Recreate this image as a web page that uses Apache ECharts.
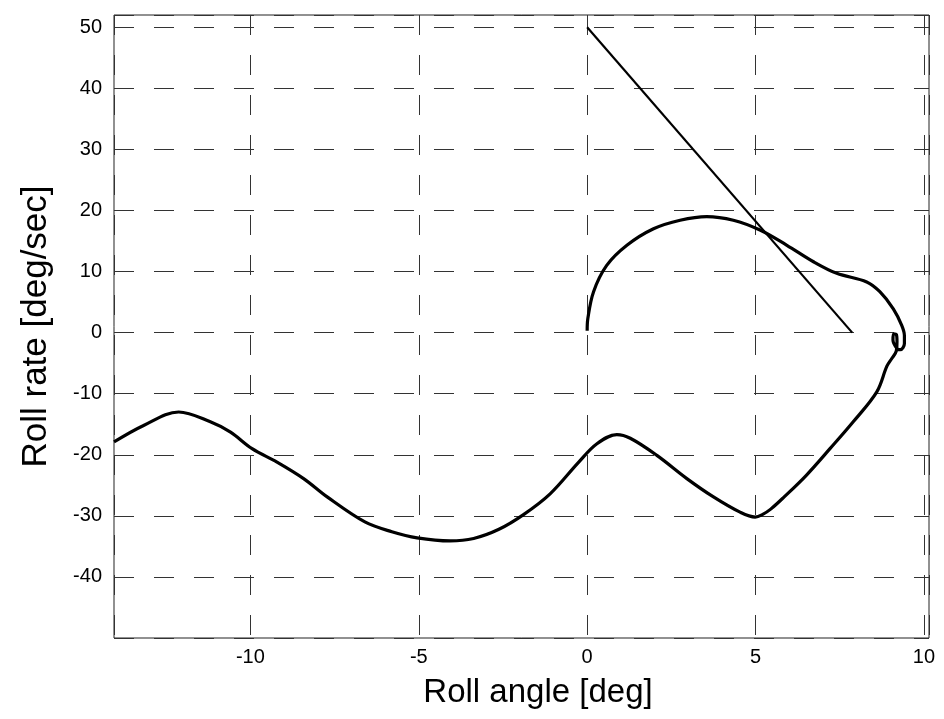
<!DOCTYPE html>
<html>
<head>
<meta charset="utf-8">
<script src="https://cdn.jsdelivr.net/npm/echarts@6/dist/echarts.min.js"></script>
<style>
html,body{margin:0;padding:0;background:#fff;}
#chart{width:944px;height:719px;}
</style>
</head>
<body>
<div id="chart"></div>
<script>
// Roll angle [deg] / Roll rate [deg/sec] trajectory
const trajAngle = [0, 0.02, 0.19, 0.58, 1.18, 1.97, 2.76, 3.55, 4.34, 5.13, 5.93, 6.72, 7.41, 8.30, 8.69, 9.09, 9.34,
  9.42, 9.42, 9.30, 9.20, 9.08, 9.10, 9.18, 9.20, 9.18, 9.05, 8.90,
  8.60, 7.90, 7.21, 6.50, 5.85, 5.45, 5.20, 4.99, 4.54, 3.75, 2.96, 2.07, 1.28, 0.88, 0.29, -0.25,
  -1.10, -1.89, -2.62, -3.37, -4.07, -5.05, -5.80, -6.60, -7.72, -8.42, -9.21, -9.95, -10.59, -11.19, -12.13, -13.17, -14.05];
const trajRate = [0.3, 2.3, 6.7, 11.0, 14.3, 17.0, 18.4, 19.0, 18.4, 16.8, 14.3, 11.6, 9.7, 8.3, 6.7, 3.9, 1.2,
  -0.5, -1.8, -2.8, -2.6, -1.2, -0.2, -0.3, -1.5, -3.0, -4.2, -5.5,
  -9.7, -14.6, -19.0, -23.4, -26.9, -28.9, -29.8, -30.2, -29.4, -26.9, -23.9, -20.1, -17.3, -16.7, -18.2, -21.2,
  -26.4, -29.8, -32.2, -33.7, -34.1, -33.6, -32.6, -31.0, -26.9, -23.9, -21.2, -19.0, -16.3, -14.6, -13.0, -15.2, -17.9];
// switching line
const lineAngle = [0, 7.87];
const lineRate = [50, 0];

const xLabels = [-10, -5, 0, 5, 10];
const yLabels = [-40, -30, -20, -10, 0, 10, 20, 30, 40, 50];

const traj = trajAngle.map((v, i) => [v, trajRate[i]]);
const sw = lineAngle.map((v, i) => [v, lineRate[i]]);

const FONT = "'Liberation Sans', Arial, Helvetica, sans-serif";
const gridStyle = { color: '#333', width: 1, type: [20, 20] };

const chart = echarts.init(document.getElementById('chart'), null, { renderer: 'canvas' });
chart.setOption({
  backgroundColor: '#fff',
  animation: false,
  grid: { left: 114, right: 15, top: 15, bottom: 81, show: true, borderColor: '#222', borderWidth: 1, containLabel: false },
  xAxis: {
    type: 'value', min: -14.05, max: 10.15, splitNumber: 5,
    axisLine: { show: false }, axisTick: { show: false },
    axisLabel: {
      showMinLabel: false, showMaxLabel: false, margin: 9,
      fontSize: 20, color: '#000', fontFamily: FONT,
      formatter: v => (xLabels.indexOf(v) >= 0 ? String(v) : '')
    },
    splitLine: { show: true, lineStyle: gridStyle },
    name: 'Roll angle [deg]', nameLocation: 'middle', nameGap: 38,
    nameTextStyle: { fontSize: 33, color: '#000', fontFamily: FONT, padding: [0, 0, 0, 33] }
  },
  yAxis: {
    type: 'value', min: -50, max: 52, interval: 10,
    axisLine: { show: false }, axisTick: { show: false },
    axisLabel: {
      showMinLabel: false, showMaxLabel: false, margin: 12,
      fontSize: 20, color: '#000', fontFamily: FONT,
      formatter: v => (yLabels.indexOf(v) >= 0 ? String(v) : '')
    },
    splitLine: { show: true, lineStyle: gridStyle },
    name: 'Roll rate [deg/sec]', nameLocation: 'middle', nameGap: 60,
    nameTextStyle: { fontSize: 35, color: '#000', fontFamily: FONT }
  },
  series: [
    {
      type: 'line', data: sw, showSymbol: false, symbol: 'none',
      lineStyle: { color: '#000', width: 2.2 }, clip: true
    },
    {
      type: 'line', data: traj, showSymbol: false, symbol: 'none', smooth: 0.35,
      lineStyle: { color: '#000', width: 3.2 }, clip: true
    }
  ]
});
</script>
</body>
</html>
